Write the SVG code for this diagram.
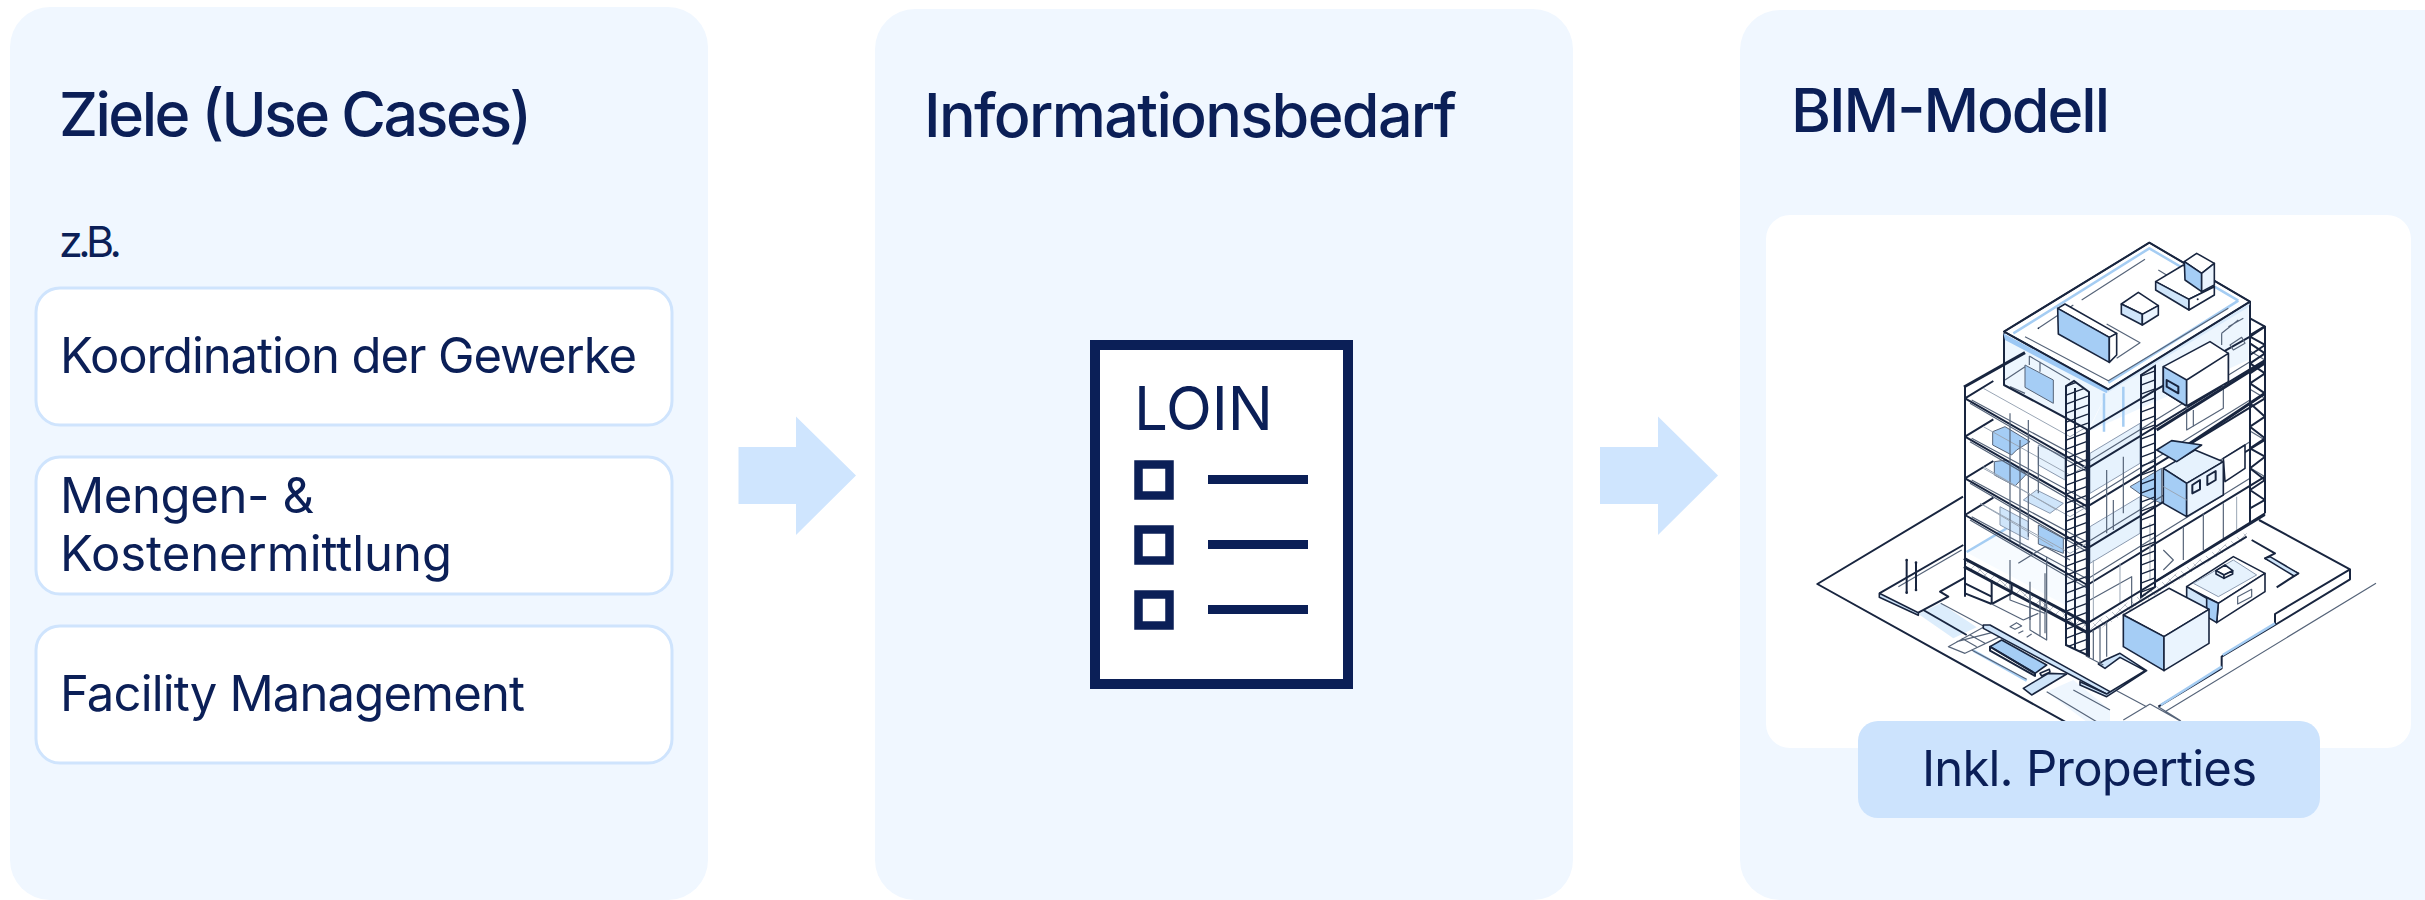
<svg xmlns="http://www.w3.org/2000/svg" width="2425" height="900" viewBox="0 0 2425 900">
<style>
text{font-family:"Inter","Liberation Sans",sans-serif;fill:#0b1f57}
.h{font-size:61px;font-weight:500}
.t{font-size:49px;font-weight:400}
.p{fill:#f0f7ff}
.b{fill:#fff;stroke:#cfe4fd;stroke-width:3}
.a{fill:#cfe5fe}
.n{fill:#0b1f57}
.i{fill:#fff;stroke:#0b1f57}
.d,.dk,.m,.l,.bl,.f1,.f2,.f3,.f4,.g1,.g2,.g3,.tr{vector-effect:non-scaling-stroke;stroke-linejoin:round}
.d{stroke:#18253f;stroke-width:2;fill:none}
.dk{stroke:#18253f;stroke-width:3;fill:none}
.m{stroke:#566479;stroke-width:1.2;fill:none}
.l{stroke:#9aa6b5;stroke-width:1;fill:none}
.bl{stroke:#a5cdf3;stroke-width:2.500;fill:none}
.f1{fill:#a5cdf5;stroke:#18253f;stroke-width:1.600}
.f2{fill:#cfe5fa;stroke:#18253f;stroke-width:1.600}
.f3{fill:#eaf4fe;stroke:#18253f;stroke-width:1.600}
.f4{fill:#fff;stroke:#18253f;stroke-width:1.600}
.g1{fill:#a5cdf5;stroke:#566479;stroke-width:1}
.g2{fill:#cfe5fa;stroke:#8b9ab0;stroke-width:1}
.g3{fill:#e6f2fd;stroke:#8b9ab0;stroke-width:1}
.tr{stroke:#33445f;stroke-width:1;fill:none}
</style>
<defs>
<pattern id="rungs" patternUnits="userSpaceOnUse" width="24" height="9">
<path d="M0 9L24 0M0 18L24 9M0 0L24 -9" stroke="#18253f" stroke-width="1.300" fill="none"/>
</pattern>
<pattern id="truss" patternUnits="userSpaceOnUse" width="60" height="30">
<path class="tr" d="M0 0L30 30L60 0M0 30L30 0L60 30"/>
</pattern>
<g id="plate">
<path class="d" d="M45 -210L412 0L945 -325M45 -210L130 -262"/>
<path class="m" d="M65 -205L412 -18L900 -320M60 -195L412 10"/>
<path class="l" d="M100 -240L360 -95L420 -130"/>
<path class="m" d="M945 -325L900 -352"/>
</g>
</defs>

<g id="panel-ziele">
<rect class="p" x="10" y="7" width="698" height="893" rx="40"/>
<text class="h" x="59" y="136" textLength="473">Ziele (Use Cases)</text>
<text x="59" y="257" font-size="43" textLength="63">z.B.</text>
<g id="goal-koordination">
<rect class="b" x="36" y="288" width="636" height="137" rx="24"/>
<text class="t" x="60" y="373" textLength="577">Koordination der Gewerke</text>
</g>
<g id="goal-mengen">
<rect class="b" x="36" y="457" width="636" height="137" rx="24"/>
<text class="t" x="60" y="513" textLength="254">Mengen- &amp;</text>
<text class="t" x="60" y="571" textLength="392">Kostenermittlung</text>
</g>
<g id="goal-fm">
<rect class="b" x="36" y="626" width="636" height="137" rx="24"/>
<text class="t" x="60" y="711" textLength="465">Facility Management</text>
</g>
</g>

<g id="panel-info">
<rect class="p" x="875" y="9" width="698" height="891" rx="40"/>
<text class="h" x="924" y="137" textLength="533">Informationsbedarf</text>
<g id="loin-doc">
<rect x="1095" y="345" width="253" height="339" fill="#fff" stroke="#0b1f57" stroke-width="10"/>
<text x="1134" y="430" font-size="60" textLength="139">LOIN</text>
<rect class="i" x="1138.500" y="464.500" width="31" height="31" stroke-width="8.500"/>
<rect class="i" x="1138.500" y="529.500" width="31" height="31" stroke-width="8.500"/>
<rect class="i" x="1138.500" y="594.500" width="31" height="31" stroke-width="8.500"/>
<rect class="n" x="1208" y="475" width="100" height="9"/>
<rect class="n" x="1208" y="540" width="100" height="9"/>
<rect class="n" x="1208" y="605" width="100" height="9"/>
</g>
</g>

<g id="panel-bim">
<rect class="p" x="1740" y="10" width="740" height="890" rx="40"/>
<text class="h" x="1791" y="132" textLength="319">BIM-Modell</text>
<rect x="1766" y="215" width="645" height="533" rx="24" fill="#fff"/>

<g id="building">
<!-- site, left -->
<g transform="translate(1810 540) scale(.33333)">
<path class="d" d="M459 -130L22 132L770 548"/>
<path d="M325 222L392 190L500 262L430 295Z" fill="#dcedfc"/>
<path class="f2" d="M208 160L325 218L325 226L208 172Z"/>
<path class="d" d="M208 160L460 15M325 218L415 170L390 155L470 110"/>
<path class="m" d="M265 140L455 30"/>
<path class="d" d="M340 210L470 285"/>
<path class="m" d="M392 190L520 258"/>
<path class="m" d="M415 320L520 262L570 290L465 340ZM440 305L545 278M455 295L500 320M480 285L525 310"/>
<path class="f2" d="M520 255L540 255L900 455L895 465L520 265Z"/>
<path class="f1" d="M540 320L575 300L710 375L675 400Z"/>
<path class="d" d="M540 320L675 400L675 408L540 332Z"/>
<path class="bl" d="M490 332L650 422"/>
<path class="m" d="M485 330L650 418"/>
<path class="f2" d="M640 445L715 400L770 402L665 465Z"/>
<path class="f4" d="M690 400L718 388L720 396L695 408Z"/>
<path d="M710 455L790 420L900 510V545H830Z" fill="#eef6fe"/>
<path class="m" d="M710 455L860 545M790 450L900 510"/>
<path class="m" d="M600 260L620 248L635 258L615 268ZM625 280L640 272M650 292L665 282"/>
<path class="d" d="M290 60V158M318 68V150"/>
<circle cx="290" cy="60" r="4" fill="#18253f"/><circle cx="318" cy="68" r="4" fill="#18253f"/>
<circle cx="290" cy="158" r="4" fill="#18253f"/><circle cx="318" cy="150" r="4" fill="#18253f"/>
</g>
<!-- site, right -->
<g transform="translate(2090 540) scale(.33333)">
<path class="d" d="M507 -60L780 88V118L555 255M780 88L555 222V255L395 350V385L205 500"/>
<path class="bl" d="M555 250L398 345M395 380L212 495"/>
<path class="m" d="M858 130L225 515M205 500L272 542M180 492L100 540M180 492L275 545M80 452L170 500"/>
<path class="d" d="M485 0L555 40L525 55L625 100L560 142"/>
<path class="f2" d="M525 55L540 50L625 100L612 108Z"/>
<path class="f2" d="M-30 425L50 462L165 392L90 352L45 385L25 372L45 360L90 340L170 392L50 470L-30 435Z"/>
<path class="f4" d="M290 140L430 50L525 100L385 190Z"/>
<path class="g3" d="M310 130L430 60L500 105L385 170Z"/>
<path class="f4" d="M385 190L525 100V155L380 248Z"/>
<path class="f1" d="M345 170L385 190L380 248L350 230Z"/>
<path class="f2" d="M290 140L350 175V228L290 190Z"/>
<path class="m" d="M443 170L485 148V170L443 192Z"/>
<path class="f4" d="M378 92L405 75L428 92L402 105Z"/>
<path class="f3" d="M378 92L402 105V115L378 102Z"/>
<path class="f4" d="M402 105L428 92V102L402 115Z"/>
</g>
<!-- frame -->
<g transform="translate(1950 400) scale(.33333)">
<path fill="#fff" d="M45 -40V590L412 770L945 340V-220L500 -100Z"/>
<path d="M46 455L170 385L412 560V650Z" fill="#f7fbff"/>
<path class="bl" d="M50 456L170 385"/>
<path class="g1" d="M128 95L165 80L240 125L200 150L185 165L128 135Z"/>
<path class="g1" d="M133 185L170 180L230 222L195 258L133 225Z"/>
<path class="g2" d="M150 320V375L235 420V365Z"/>
<path class="g1" d="M265 375V432L340 460V415Z"/>
<path class="g3" d="M265 135V195L345 240V170Z"/>
<path class="g2" d="M220 300L260 270L340 310L300 340Z"/>
<path class="g1" d="M540 260L635 205V310L575 285Z"/>
<path class="g3" d="M420 160L570 70V190L420 280Z"/>
<path class="g3" d="M420 380L570 290V400L420 490Z"/>
<use href="#plate" y="205"/><use href="#plate" y="320"/><use href="#plate" y="445"/><use href="#plate" y="555"/>
<path class="m" d="M180 480V600L285 640V520M205 490L285 440L360 480M240 545V660M285 640V700M470 290V400M490 300V390M420 600L545 530V620M640 450L670 480L640 510M700 380V480M760 340V450M820 310V420M265 140V280M210 120V440M180 40V420M235 60V410M520 170V340M470 210V320"/>
<path class="l" d="M430 480V660M510 490V610M600 370V540M860 290V400M100 200L320 330M90 310L310 440"/>
<!-- truss -->
<path d="M45 478L412 672V700L45 505Z" fill="url(#truss)"/>
<path class="dk" d="M42 475L412 670M42 500L412 698"/>
<path d="M412 680L890 395V415L412 710Z" fill="url(#truss)"/>
<path class="d" d="M412 670L945 345M412 700L890 410"/>
<path class="d" d="M45 -40V590M945 -222V340M900 -195V370M615 -60V548"/>
<path class="dk" d="M412 90V770"/>
<path class="d" d="M615 545L945 340M45 580L125 612M125 540V612M45 550L125 590M125 612L185 580V555"/>
<path class="d" d="M945 -222L900 -195M900 -170L945 -140L900 -110L945 -80L900 -50L945 -20L900 10L945 50L900 80L945 115L900 145L945 170L900 205L945 240L900 270L945 300L900 325"/>
<path class="m" d="M240 580V690L290 720V610M270 600V710M290 470V620M125 612L220 660L265 640"/>
<path class="m" d="M430 690V780M450 680V790M470 665V770M412 770L460 795"/>
</g>
<!-- top floor -->
<g transform="translate(1980 230) scale(.33333)">
<path d="M72 320V465L325 600L385 480Z" fill="#eaf4fe" fill-opacity=".85"/>
<path d="M385 480L805 230V390L325 605Z" fill="#eaf4fe" fill-opacity=".85"/>
<path class="g1" d="M135 405L220 450V520L135 472Z"/>
<path class="m" d="M148 378V405M148 378L270 450M180 395V425M75 450L135 410M90 470L135 490"/>
<path class="bl" d="M372 490V605M430 470V590"/>
<path class="d" d="M72 310V465L325 600L530 478L810 320M810 215V590"/>
<path class="dk" d="M-48 471L135 368"/>
<path class="f4" d="M72 305L508 38L810 215L385 478Z"/>
<path d="M70 310L385 478L380 490L75 330Z" fill="#9cc8f5"/>
<path d="M385 478L810 220L805 232L380 490Z" fill="#d8eafb"/>
<path class="d" d="M72 305L508 38L810 215L385 478Z"/>
<path class="bl" d="M100 310L508 55L775 212M775 212L385 458"/>
<path class="m" d="M135 320L385 452L745 235M175 295L280 225M305 210L495 88M535 120L600 160"/>
<circle cx="175" cy="295" r="2.500" fill="#18253f"/>
<path class="m" d="M380 282L480 338L410 385"/>
<path class="f4" d="M233 235L255 222L410 310L388 322Z"/>
<path class="f1" d="M233 235L388 322V397L235 312Z"/>
<path class="f4" d="M388 322L410 310V375L388 397Z"/>
<path class="f4" d="M424 222L475 187L535 227L487 253Z"/>
<path class="f2" d="M424 222L487 253V285L424 252Z"/>
<path class="f3" d="M487 253L535 227V255L487 285Z"/>
<path class="f4" d="M527 155L610 105L703 170L627 208Z"/>
<path class="f2" d="M527 155L627 208V240L527 180Z"/>
<path class="f4" d="M627 208L703 170V195L627 240Z"/>
<path class="f4" d="M613 95L650 70L703 100L665 130Z"/>
<path class="f1" d="M613 95L665 130V185L615 150Z"/>
<path class="f3" d="M665 130L703 100V165L665 185Z"/>
<circle cx="653" cy="208" r="3" fill="#18253f"/>
<path class="m" d="M725 310L775 270M725 310V345M745 290L790 265M750 345L785 322L795 340L760 360Z"/>
<path class="f4" d="M550 410L690 335L745 370V455L620 528L550 485Z"/>
<path class="f1" d="M550 410L620 450V528L550 485Z"/>
<path class="f4" d="M620 450L745 370V455L620 528Z"/>
<path class="d" d="M560 450L595 470V490L560 470Z"/>
<path class="m" d="M620 528V600L730 535V465M640 540V590"/>
<path class="d" d="M810 265L855 290V600M855 290L810 320M855 345L810 375M810 320L855 345M855 400L810 430"/>
<path class="dk" d="M600 660L855 490M855 395L530 600"/>
</g>
<!-- ladders -->
<g id="ladders">
<path d="M2066 386L2074 381L2089 392V656L2066 645Z" fill="url(#rungs)" stroke="#18253f" stroke-width="2"/>
<path class="d" d="M2075 388V650"/>
<path d="M2141 375L2155 366V587L2141 597Z" fill="url(#rungs)" stroke="#18253f" stroke-width="2"/>
</g>
<!-- right cubes on top of frame -->
<g transform="translate(1950 400) scale(.33333)">
<path class="f4" d="M820 175L885 135V205L825 245Z"/>
<path class="f2" d="M640 205L735 150L820 185L710 250Z" style="fill:#e6f2fd"/>
<path class="f1" d="M640 205L710 250V350L640 310Z"/>
<path class="f3" d="M710 250L820 185V285L710 350Z"/>
<path class="f1" d="M620 150L665 122L755 135L680 185Z"/>
<path class="d" d="M727 255L750 240V268L727 280ZM772 228L797 213V240L772 255Z"/>
<path class="l" d="M640 260L710 300"/>
</g>
<!-- white cube -->
<g transform="translate(2090 540) scale(.33333)">
<path class="f4" d="M100 225L237 145L357 208L222 290Z"/>
<path class="f1" d="M100 225L222 290V392L100 320Z"/>
<path class="f3" d="M222 290L357 208V310L222 392Z"/>
</g>
</g>

<g id="label-properties">
<rect x="1858" y="721" width="462" height="97" rx="20" fill="#cce3fd"/>
<text class="t" x="1922" y="786" textLength="335">Inkl. Properties</text>
</g>
</g>

<g id="connectors">
<path class="a" d="M738.500 447H796V416.500L856 475.500L796 535V504H738.500Z"/>
<path class="a" d="M1600 447H1658V416.500L1718 475.500L1658 535V504H1600Z"/>
</g>
</svg>
